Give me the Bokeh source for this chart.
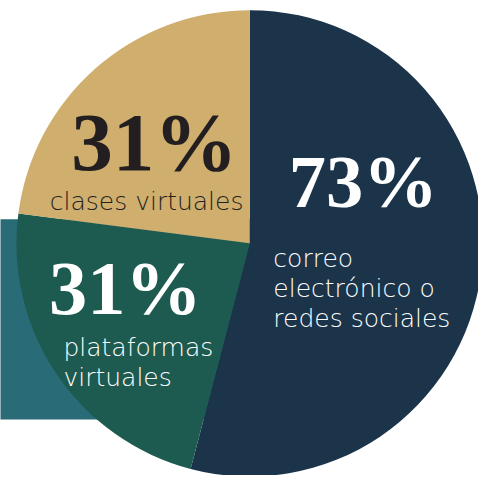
import math
from bokeh.plotting import figure
from bokeh.models import Range1d, ColumnDataSource
from bokeh.core.properties import value
from bokeh.embed import file_html
from bokeh.resources import INLINE

# ---- data ----
categories = ["correo electrónico o redes sociales", "plataformas virtuales", "clases virtuales"]
values = [73, 31, 31]
pct_labels = ["73%", "31%", "31%"]
label_lines = [["correo", "electrónico o", "redes sociales"], ["plataformas", "virtuales"], ["clases virtuales"]]
colors = ["#1c344a", "#1d5b50", "#cfae6e"]
pct_colors = ["#ffffff", "#ffffff", "#231f20"]
label_colors = ["#ffffff", "#ffffff", "#231f20"]

REF_W, REF_H = 494, 491
W, H = 478, 475
S = W / REF_W

p = figure(width=W, height=H, output_backend="svg", toolbar_location=None,
           x_range=Range1d(0, REF_W), y_range=Range1d(0, REF_H),
           min_border=0, outline_line_color=None, background_fill_color="white")
p.axis.visible = False
p.grid.visible = False


def Y(ref_y):
    return REF_H - ref_y


# decorative teal band behind the pie
p.quad(left=[-10], right=[258], bottom=[Y(433)], top=[Y(226)], fill_color="#2a6b78", line_color=None)

# pie
cx, cy, r = 257.5, Y(251), 241
total = sum(values)
starts, ends = [], []
acc = 0
for v in values:
    starts.append(math.radians(90 - acc / total * 360))
    acc += v
    ends.append(math.radians(90 - acc / total * 360))
src = ColumnDataSource(dict(start=starts, end=ends, color=colors, cat=categories))
p.wedge(x=cx, y=cy, radius=r, start_angle="start", end_angle="end", direction="clock",
        fill_color="color", line_color=None, source=src)

SHIFT = 0.34  # baseline correction (fraction of font size)

# percentage texts
pct_x = [375, 129, 159]
pct_base = [214, 325, 176]
pct_size = [77, 79, 86]
for i in range(3):
    fs = pct_size[i]
    p.text(x=[pct_x[i]], y=[Y(pct_base[i]) + SHIFT * fs], text=[pct_labels[i]], text_align="center",
           text_baseline="alphabetic", text_font=value("Liberation Serif"),
           text_font_style="bold", text_font_size=f"{fs * S:.1f}px", text_color=pct_colors[i])

# category labels
lab_x = [282, 65, 151]
lab_base = [275, 367, 217]
lab_align = ["left", "left", "center"]
line_gap = 31.5
LFS = 25.8
for i in range(3):
    lines = label_lines[i]
    p.text(x=[lab_x[i]] * len(lines),
           y=[Y(lab_base[i] + k * line_gap) + SHIFT * LFS for k in range(len(lines))],
           text=lines, text_align=lab_align[i], text_baseline="alphabetic",
           text_font=value("DejaVu Sans Light, DejaVu Sans"), text_font_size=f"{LFS * S:.1f}px",
           text_color=label_colors[i])

open("out.html", "w").write(file_html(p, INLINE))
